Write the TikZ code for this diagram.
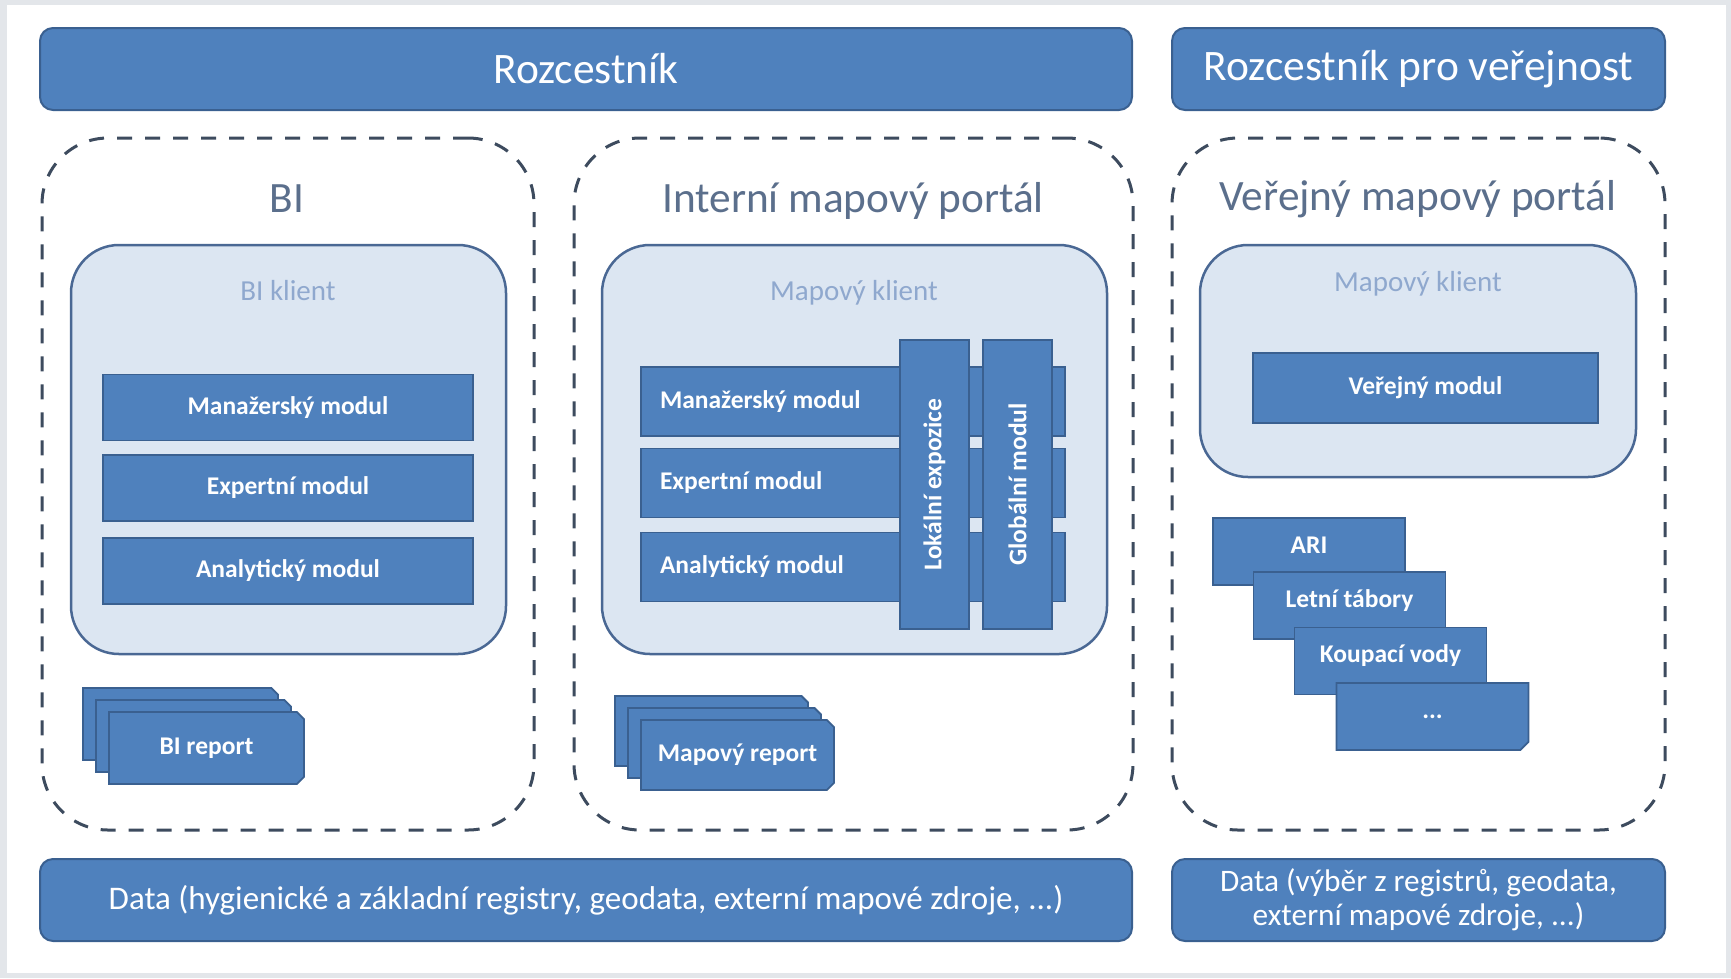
\documentclass[tikz,border=0pt]{standalone}
\usepackage{fontspec}
\setmainfont{Carlito}
\usetikzlibrary{shapes.misc}
\definecolor{boxblue}{HTML}{4F81BD}
\definecolor{boxedge}{HTML}{3A6090}
\definecolor{clientfill}{HTML}{DCE6F2}
\definecolor{clientedge}{HTML}{4A6894}
\definecolor{dashgray}{HTML}{3D4B5E}
\definecolor{titlegray}{HTML}{5B6F8C}
\definecolor{clienttext}{HTML}{8FA8CE}
\definecolor{edgegray}{HTML}{E3E6EA}

\begin{document}
\begin{tikzpicture}[x=1pt,y=-1pt,
  bar/.style={draw=boxedge,line width=2pt,fill=boxblue,rounded corners=13pt,minimum height=82pt,text=white,font=\fontsize{43.5}{48}\selectfont},
  databar/.style={bar,align=center,font=\fontsize{33}{36}\selectfont},
  portal/.style={draw=dashgray,line width=3pt,dash pattern=on 15pt off 13pt,rounded corners=66pt,minimum height=692pt},
  portaltitle/.style={anchor=base,text=titlegray,font=\fontsize{43.3}{48}\selectfont},
  client/.style={draw=clientedge,line width=2.5pt,fill=clientfill,rounded corners=48pt},
  clienttitle/.style={anchor=base,text=clienttext,font=\fontsize{29}{32}\selectfont},
  module/.style={draw=boxedge,line width=1.8pt,fill=boxblue,text=white,font=\bfseries\fontsize{25.5}{28}\selectfont},
  intmodule/.style={module,minimum height=69pt,text width=386pt,inner xsep=19pt,align=flush left},
  sheet/.style={module,chamfered rectangle,chamfered rectangle corners={north east,south east},chamfered rectangle xsep=4pt},
  layerbox/.style={module,minimum width=192pt,minimum height=67pt,inner ysep=0pt,text height=35pt,text depth=32pt}]
  \useasboundingbox (0,0) rectangle (1731,978);
  \fill[edgegray] (0,0) rectangle (1731,978);
  \fill[white] (7,5) rectangle (1726,973);

  \node[bar,minimum width=1092pt] (rozc) at (586,69) {Rozcestník};
  \node[bar,minimum width=493pt] (rozcpub) at (1418.5,69) {Rozcestník pro veřejnost};

  \node[portal,minimum width=492pt] (bifr) at (288,484) {};
  \node[portal,minimum width=559pt] (intfr) at (853.5,484) {};
  \node[portal,minimum width=493pt] (pubfr) at (1418.5,484) {};
  \node[portaltitle] (bititle) at (287,212) {BI};
  \node[portaltitle] (inttitle) at (853,212) {Interní mapový portál};
  \node[portaltitle] (pubtitle) at (1418,210) {Veřejný mapový portál};

  \node[client,minimum width=435pt,minimum height=409pt] (biclient) at (288.5,449.5) {};
  \node[clienttitle] (biclienttitle) at (288,300) {BI klient};
  \node[module,minimum width=370pt,minimum height=66pt] (bimanag) at (288,407.5) {Manažerský modul};
  \node[module,minimum width=370pt,minimum height=66pt] (biexpert) at (288,488) {Expertní modul};
  \node[module,minimum width=370pt,minimum height=66pt] (bianalyt) at (288,571) {Analytický modul};

  \node[sheet,minimum width=195pt,minimum height=72pt] (birep3) at (180.5,724) {};
  \node[sheet,minimum width=195pt,minimum height=72pt] (birep2) at (193.5,736) {};
  \node[sheet,minimum width=195pt,minimum height=72pt] (birep) at (206.5,748) {BI report};

  \node[client,minimum width=505pt,minimum height=409pt] (mapclient) at (854.5,449.5) {};
  \node[clienttitle] (mapclienttitle) at (854,300) {Mapový klient};
  \node[intmodule] (intmanag) at (853,401.5) {Manažerský modul};
  \node[intmodule] (intexpert) at (853,483) {Expertní modul};
  \node[intmodule] (intanalyt) at (853,567) {Analytický modul};
  \node[module,rotate=90,minimum width=289pt,minimum height=69pt] (lokexp) at (934.5,484.5) {Lokální expozice};
  \node[module,rotate=90,minimum width=289pt,minimum height=69pt] (globmod) at (1017.5,484.5) {Globální modul};

  \node[sheet,minimum width=193pt,minimum height=70pt] (maprep3) at (711.5,731) {};
  \node[sheet,minimum width=193pt,minimum height=70pt] (maprep2) at (724.5,743) {};
  \node[sheet,minimum width=193pt,minimum height=70pt] (maprep) at (737.5,755) {Mapový report};

  \node[client,minimum width=436pt,minimum height=232pt] (pubclient) at (1418,361) {};
  \node[clienttitle] (pubclienttitle) at (1418,291) {Mapový klient};
  \node[module,minimum width=345pt,minimum height=70pt] (pubmod) at (1425.5,388) {Veřejný modul};

  \node[layerbox] (ari) at (1309,551.5) {ARI};
  \node[layerbox] (tabory) at (1349.5,605.5) {Letní tábory};
  \node[layerbox] (koupani) at (1390.5,661) {Koupací vody};
  \node[module,chamfered rectangle,chamfered rectangle corners=south east,chamfered rectangle xsep=5pt,minimum width=192pt,minimum height=67pt] (dalsi) at (1432.5,716.5) {...};

  \node[databar,minimum width=1092pt] (data) at (586,900) {Data (hygienické a základní registry, geodata, externí mapové zdroje, ...)};
  \node[databar,minimum width=493pt,font=\fontsize{31.3}{34}\selectfont] (datapub) at (1418.5,900) {Data (výběr z registrů, geodata,\\externí mapové zdroje, ...)};
\end{tikzpicture}
\end{document}
